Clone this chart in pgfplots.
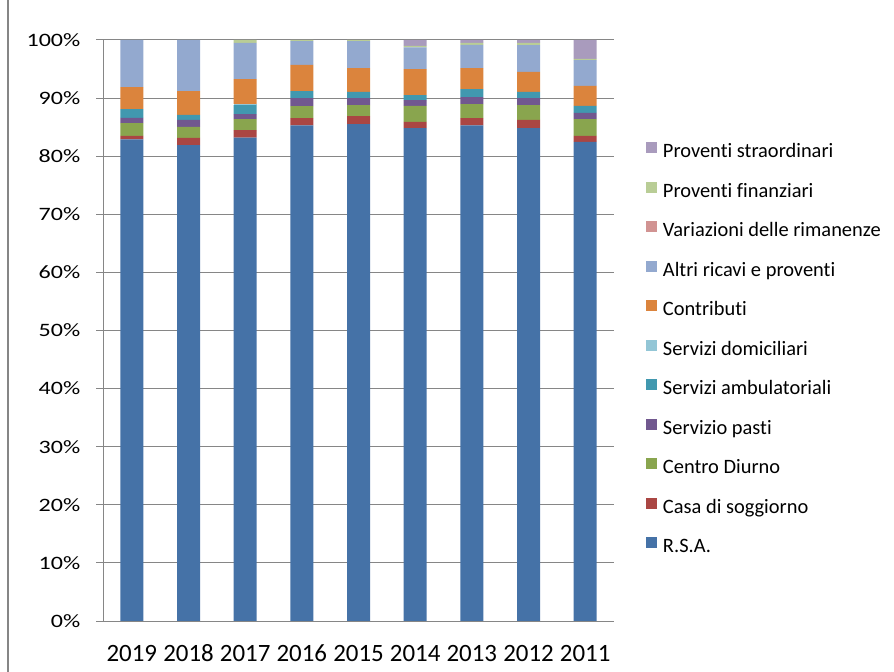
\documentclass[border=0pt]{standalone}
\usepackage{fontspec}
\setmainfont{Carlito}[Ligatures=NoCommon]
\newfontfamily\yfont{Carlito}[FakeStretch=1.27]
\usepackage{pgfplots}
\usepackage{pgfplotstable}
\pgfplotsset{compat=1.18}
\definecolor{cRSA}{HTML}{4572A7}
\definecolor{cCasa}{HTML}{AA4643}
\definecolor{cCD}{HTML}{89A54E}
\definecolor{cPasti}{HTML}{71588F}
\definecolor{cAmb}{HTML}{4198AF}
\definecolor{cDom}{HTML}{93C6D6}
\definecolor{cContr}{HTML}{DB843D}
\definecolor{cAltri}{HTML}{93A9CF}
\definecolor{cVar}{HTML}{D19392}
\definecolor{cFin}{HTML}{B9CD96}
\definecolor{cStr}{HTML}{A99BBD}
\definecolor{cGrid}{HTML}{868686}
% x: 0=2019 ... 8=2011
\pgfplotstableread{
x rsa casa cd pasti amb dom contr altri var fin str
0 82.9  0.6  2.2  0.9  1.5  0.0 3.8  8.1  0 0    0
1 81.9  1.25 1.9  1.2  0.85 0.0 4.1  8.8  0 0    0
2 83.2  1.3  1.9  0.85 1.55 0.2 4.25 6.25 0 0.5  0
3 85.3  1.25 2.05 1.4  1.2  0.0 4.5  4.1  0 0.2  0
4 85.5  1.4  1.9  1.2  1.05 0.0 4.1  4.65 0 0.2  0
5 84.85 1.05 2.75 1.0  0.85 0.0 4.5  3.75 0 0.25 1.0
6 85.3  1.25 2.4  1.2  1.4  0.0 3.6  4.0  0 0.35 0.5
7 84.85 1.4  2.55 1.2  1.05 0.0 3.45 4.6  0 0.4  0.5
8 82.45 1.05 2.9  1.05 1.2  0.0 3.45 4.45 0 0.2  3.25
}\data
\begin{document}
\begin{tikzpicture}
\path[use as bounding box] (0,0) rectangle (894bp,672bp);
\draw[cGrid, line width=1.5bp] (8bp,0) -- (8bp,672bp);
\begin{axis}[
  at={(103.5bp,51bp)}, anchor=south west,
  scale only axis, width=510bp, height=581bp,
  ybar stacked, bar width=23bp,
  xmin=-0.5, xmax=8.5, ymin=0, ymax=100,
  axis x line*=bottom, axis y line*=left,
  axis line style={cGrid, line width=1bp},
  xtick={0,...,8},
  xticklabels={2019,2018,2017,2016,2015,2014,2013,2012,2011},
  x tick label style={font=\fontsize{25}{25}\selectfont, anchor=base, yshift=-34bp},
  major x tick style={draw=none},
  extra x ticks={-0.5,0.5,...,8.5},
  extra x tick labels={},
  extra x tick style={tick align=outside, major tick length=8bp, tick style={cGrid, line width=1bp}},
  ytick={0,10,...,100},
  yticklabels={0\%,10\%,20\%,30\%,40\%,50\%,60\%,70\%,80\%,90\%,100\%},
  y tick label style={font=\yfont\fontsize{19}{19}\selectfont, anchor=east, inner sep=0pt, xshift=-16bp},
  tick align=outside, major tick length=7bp,
  y tick style={cGrid, line width=1bp},
  ymajorgrids, grid style={cGrid, line width=1bp},
  every axis plot/.append style={draw=none},
  legend style={at={(1.0637,0.8236)}, anchor=north west, draw=none, fill=none,
    inner sep=0pt, outer sep=0pt, column sep=6bp, row sep=20bp,
    font=\fontsize{20.5}{20.5}\selectfont,
    nodes={inner sep=0pt, text height=14bp, text depth=4bp}},
  legend cell align=left,
  reverse legend,
  legend image code/.code={\fill[#1] (0bp,-0.5bp) rectangle (11bp,10.5bp);},
]
\addplot[fill=cRSA] table[x=x,y=rsa]{\data};
\addplot[fill=cCasa] table[x=x,y=casa]{\data};
\addplot[fill=cCD] table[x=x,y=cd]{\data};
\addplot[fill=cPasti] table[x=x,y=pasti]{\data};
\addplot[fill=cAmb] table[x=x,y=amb]{\data};
\addplot[fill=cDom] table[x=x,y=dom]{\data};
\addplot[fill=cContr] table[x=x,y=contr]{\data};
\addplot[fill=cAltri] table[x=x,y=altri]{\data};
\addplot[fill=cVar] table[x=x,y=var]{\data};
\addplot[fill=cFin] table[x=x,y=fin]{\data};
\addplot[fill=cStr] table[x=x,y=str]{\data};
\legend{R.S.A.,Casa di soggiorno,Centro Diurno,Servizio pasti,Servizi ambulatoriali,Servizi domiciliari,Contributi,Altri ricavi e proventi,Variazioni delle rimanenze,Proventi finanziari,Proventi straordinari}
\end{axis}
\end{tikzpicture}
\end{document}
